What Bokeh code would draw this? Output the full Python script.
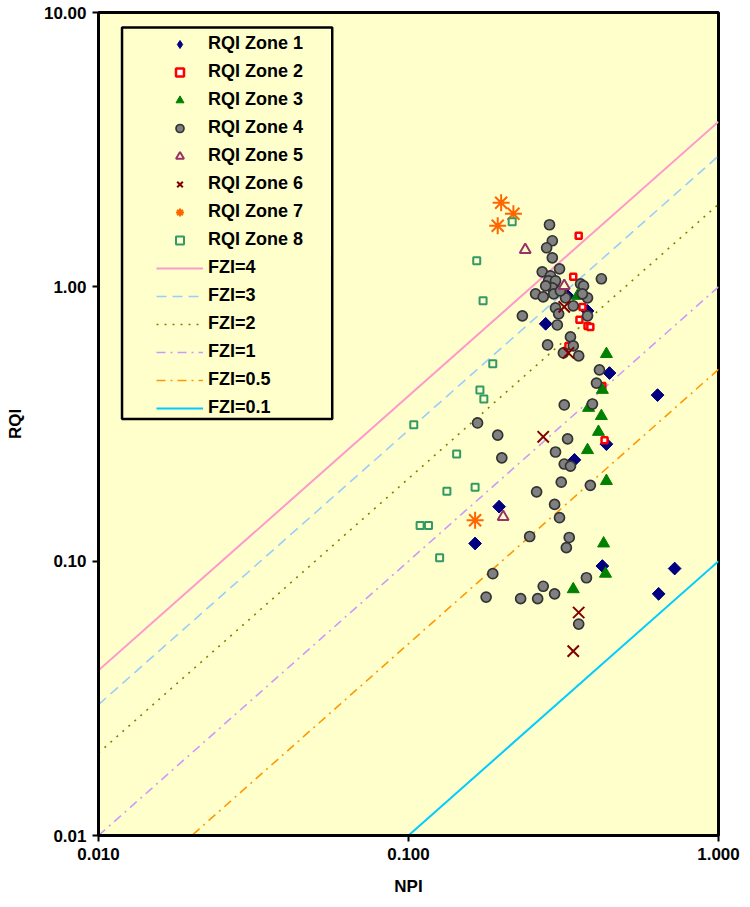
import numpy as np
from bokeh.plotting import figure
from bokeh.models import Legend, LegendItem, FixedTicker, CustomJSTickFormatter, BoxAnnotation
from bokeh.embed import file_html
from bokeh.resources import INLINE

# ---------------- data ----------------
zone1_npi = [0.277, 0.445, 0.636, 0.435, 0.343, 0.378, 0.326, 0.196, 0.164, 0.422, 0.722, 0.641]
zone1_rqi = [0.733, 0.485, 0.403, 0.267, 0.234, 0.817, 0.927, 0.158, 0.116, 0.096, 0.094, 0.076]

zone2_npi = [0.354, 0.340, 0.364, 0.356, 0.378, 0.386, 0.328, 0.422, 0.429, 0.314]
zone2_rqi = [1.535, 1.088, 0.845, 0.758, 0.720, 0.714, 0.609, 0.435, 0.276, 0.967]

zone3_npi = [0.351, 0.435, 0.422, 0.381, 0.419, 0.410, 0.378, 0.435, 0.426, 0.432, 0.340]
zone3_rqi = [0.927, 0.569, 0.421, 0.362, 0.338, 0.296, 0.254, 0.196, 0.116, 0.090, 0.079]

zone4_npi = [0.285, 0.291, 0.279, 0.291, 0.270, 0.307, 0.419, 0.287, 0.283, 0.298,
             0.291, 0.257, 0.272, 0.294, 0.359, 0.367, 0.298, 0.321, 0.340, 0.378,
             0.364, 0.305, 0.378, 0.233, 0.302, 0.333, 0.281, 0.340, 0.316, 0.354,
             0.413, 0.404, 0.318, 0.392, 0.326, 0.298, 0.318, 0.333, 0.200, 0.194,
             0.167, 0.311, 0.386, 0.259, 0.296, 0.307, 0.246, 0.330, 0.323, 0.187,
             0.375, 0.272, 0.296, 0.178, 0.230, 0.261, 0.354, 0.309, 0.277]
zone4_rqi = [1.684, 1.472, 1.388, 1.276, 1.134, 1.163, 1.070, 1.097, 1.052, 1.052,
             0.992, 0.943, 0.919, 0.943, 1.025, 1.008, 0.838, 0.912, 0.852, 0.912,
             0.943, 0.797, 0.784, 0.784, 0.726, 0.657, 0.614, 0.609, 0.574, 0.560,
             0.498, 0.446, 0.371, 0.374, 0.279, 0.250, 0.226, 0.222, 0.238, 0.288,
             0.319, 0.194, 0.189, 0.179, 0.161, 0.144, 0.123, 0.122, 0.112, 0.090,
             0.087, 0.081, 0.076, 0.074, 0.073, 0.073, 0.059, 0.967, 1.008]

zone5_npi = [0.238, 0.318, 0.202]
zone5_rqi = [1.365, 1.008, 0.145]

zone6_npi = [0.318, 0.328, 0.272, 0.354, 0.340]
zone6_rqi = [0.845, 0.574, 0.284, 0.065, 0.047]

zone7_npi = [0.199, 0.218, 0.194, 0.164]
zone7_rqi = [2.026, 1.847, 1.670, 0.141]

zone8_npi = [0.216, 0.166, 0.174, 0.187, 0.170, 0.175, 0.104, 0.143, 0.133, 0.164, 0.109, 0.116, 0.126]
zone8_rqi = [1.727, 1.244, 0.889, 0.524, 0.421, 0.390, 0.314, 0.246, 0.180, 0.186, 0.135, 0.135, 0.103]

fzi_npi = [0.01, 1.0]
fzi4_rqi = [0.04, 4.0]
fzi3_rqi = [0.03, 3.0]
fzi2_rqi = [0.02, 2.0]
fzi1_rqi = [0.01, 1.0]
fzi05_rqi = [0.005, 0.5]
fzi01_rqi = [0.001, 0.1]

x_ticks = [0.01, 0.1, 1.0]
y_ticks = [0.01, 0.1, 1.0, 10.0]

# ---------------- figure ----------------
FONT = "Liberation Sans"
BG = "#FFFFCC"

p = figure(width=748, height=905, x_axis_type="log", y_axis_type="log",
           x_range=(0.01, 1.0), y_range=(0.01, 10.0),
           output_backend="svg", toolbar_location=None,
           min_border_left=98, min_border_right=30, min_border_top=12, min_border_bottom=70)

p.background_fill_color = BG
p.border_fill_color = "white"
p.outline_line_color = "black"
p.outline_line_width = 3
p.grid.visible = False

p.xaxis.ticker = FixedTicker(ticks=x_ticks)
p.yaxis.ticker = FixedTicker(ticks=y_ticks)
p.xaxis.formatter = CustomJSTickFormatter(code="return tick.toFixed(3);")
p.yaxis.formatter = CustomJSTickFormatter(code="return tick.toFixed(2);")

for ax in (p.xaxis, p.yaxis):
    ax.axis_line_color = "black"
    ax.axis_line_width = 3
    ax.major_tick_line_color = "black"
    ax.major_tick_line_width = 2
    ax.major_tick_out = 6
    ax.major_tick_in = 0
    ax.minor_tick_line_color = None
    ax.major_label_text_font = FONT
    ax.major_label_text_font_style = "bold"
    ax.major_label_text_font_size = "17px"
    ax.major_label_text_color = "black"
    ax.major_label_standoff = 6
    ax.axis_label_text_font = FONT
    ax.axis_label_text_font_style = "bold"
    ax.axis_label_text_font_size = "17px"
    ax.axis_label_text_color = "black"

p.xaxis.axis_label = "NPI"
p.xaxis.axis_label_standoff = 14
p.yaxis.axis_label = "RQI"
p.yaxis.axis_label_standoff = 16

# FZI lines
l4 = p.line(fzi_npi, fzi4_rqi, line_color="#FF99CC", line_width=2)
l3 = p.line(fzi_npi, fzi3_rqi, line_color="#99CCFF", line_width=1.6, line_dash="10 6")
l2 = p.line(fzi_npi, fzi2_rqi, line_color="#808000", line_width=1.6, line_dash="2 6")
l1 = p.line(fzi_npi, fzi1_rqi, line_color="#CC99FF", line_width=1.6, line_dash="9 5 2 5")
l05 = p.line(fzi_npi, fzi05_rqi, line_color="#FF9900", line_width=1.6, line_dash="9 5 2 5")
l01 = p.line(fzi_npi, fzi01_rqi, line_color="#00CCFF", line_width=2)

# zones
# diamond used for the legend key of zone 1 (hidden under the rotated squares)
z1_key = p.scatter(zone1_npi, zone1_rqi, marker="diamond", size=12,
                   fill_color="#000080", line_color="#000080", line_width=1)
z1 = p.scatter(zone1_npi, zone1_rqi, marker="square", angle=np.pi / 4, size=9,
               fill_color="#000080", line_color="#000080", line_width=1)
z2 = p.scatter(zone2_npi, zone2_rqi, marker="square", size=6,
               fill_color="white", line_color="#FF0000", line_width=2.5)
z3 = p.scatter(zone3_npi, zone3_rqi, marker="triangle", size=12,
               fill_color="#008000", line_color="#008000", line_width=1)
z4 = p.scatter(zone4_npi, zone4_rqi, marker="circle", size=10,
               fill_color="#808080", line_color="#333333", line_width=1.7)
z5 = p.scatter(zone5_npi, zone5_rqi, marker="triangle", size=11,
               fill_color=BG, line_color="#993366", line_width=2)
z6 = p.scatter(zone6_npi, zone6_rqi, marker="x", size=16,
               line_color="#800000", line_width=2)
z7 = p.scatter(zone7_npi, zone7_rqi, marker="asterisk", size=17,
               line_color="#FF6600", line_width=2)
z8 = p.scatter(zone8_npi, zone8_rqi, marker="square", size=7,
               fill_color=BG, line_color="#339966", line_width=2)

# legend frame
box = BoxAnnotation(left=0.01191, right=0.05675, top=8.818, bottom=0.3298,
                    fill_color=BG, fill_alpha=1.0, line_color="black", line_alpha=1.0,
                    line_width=2.5, level="annotation")
p.add_layout(box)

items = [
    LegendItem(label="RQI Zone 1", renderers=[z1_key]),
    LegendItem(label="RQI Zone 2", renderers=[z2]),
    LegendItem(label="RQI Zone 3", renderers=[z3]),
    LegendItem(label="RQI Zone 4", renderers=[z4]),
    LegendItem(label="RQI Zone 5", renderers=[z5]),
    LegendItem(label="RQI Zone 6", renderers=[z6]),
    LegendItem(label="RQI Zone 7", renderers=[z7]),
    LegendItem(label="RQI Zone 8", renderers=[z8]),
    LegendItem(label="FZI=4", renderers=[l4]),
    LegendItem(label="FZI=3", renderers=[l3]),
    LegendItem(label="FZI=2", renderers=[l2]),
    LegendItem(label="FZI=1", renderers=[l1]),
    LegendItem(label="FZI=0.5", renderers=[l05]),
    LegendItem(label="FZI=0.1", renderers=[l01]),
]
legend = Legend(items=items, location=(58, 417), padding=0, margin=0, spacing=7,
                glyph_width=47, glyph_height=20, label_height=20, label_standoff=5,
                label_text_font=FONT, label_text_font_style="bold",
                label_text_font_size="18px", label_text_color="black",
                border_line_alpha=0, background_fill_alpha=0)
p.add_layout(legend)

open("out.html", "w").write(file_html(p, INLINE))
